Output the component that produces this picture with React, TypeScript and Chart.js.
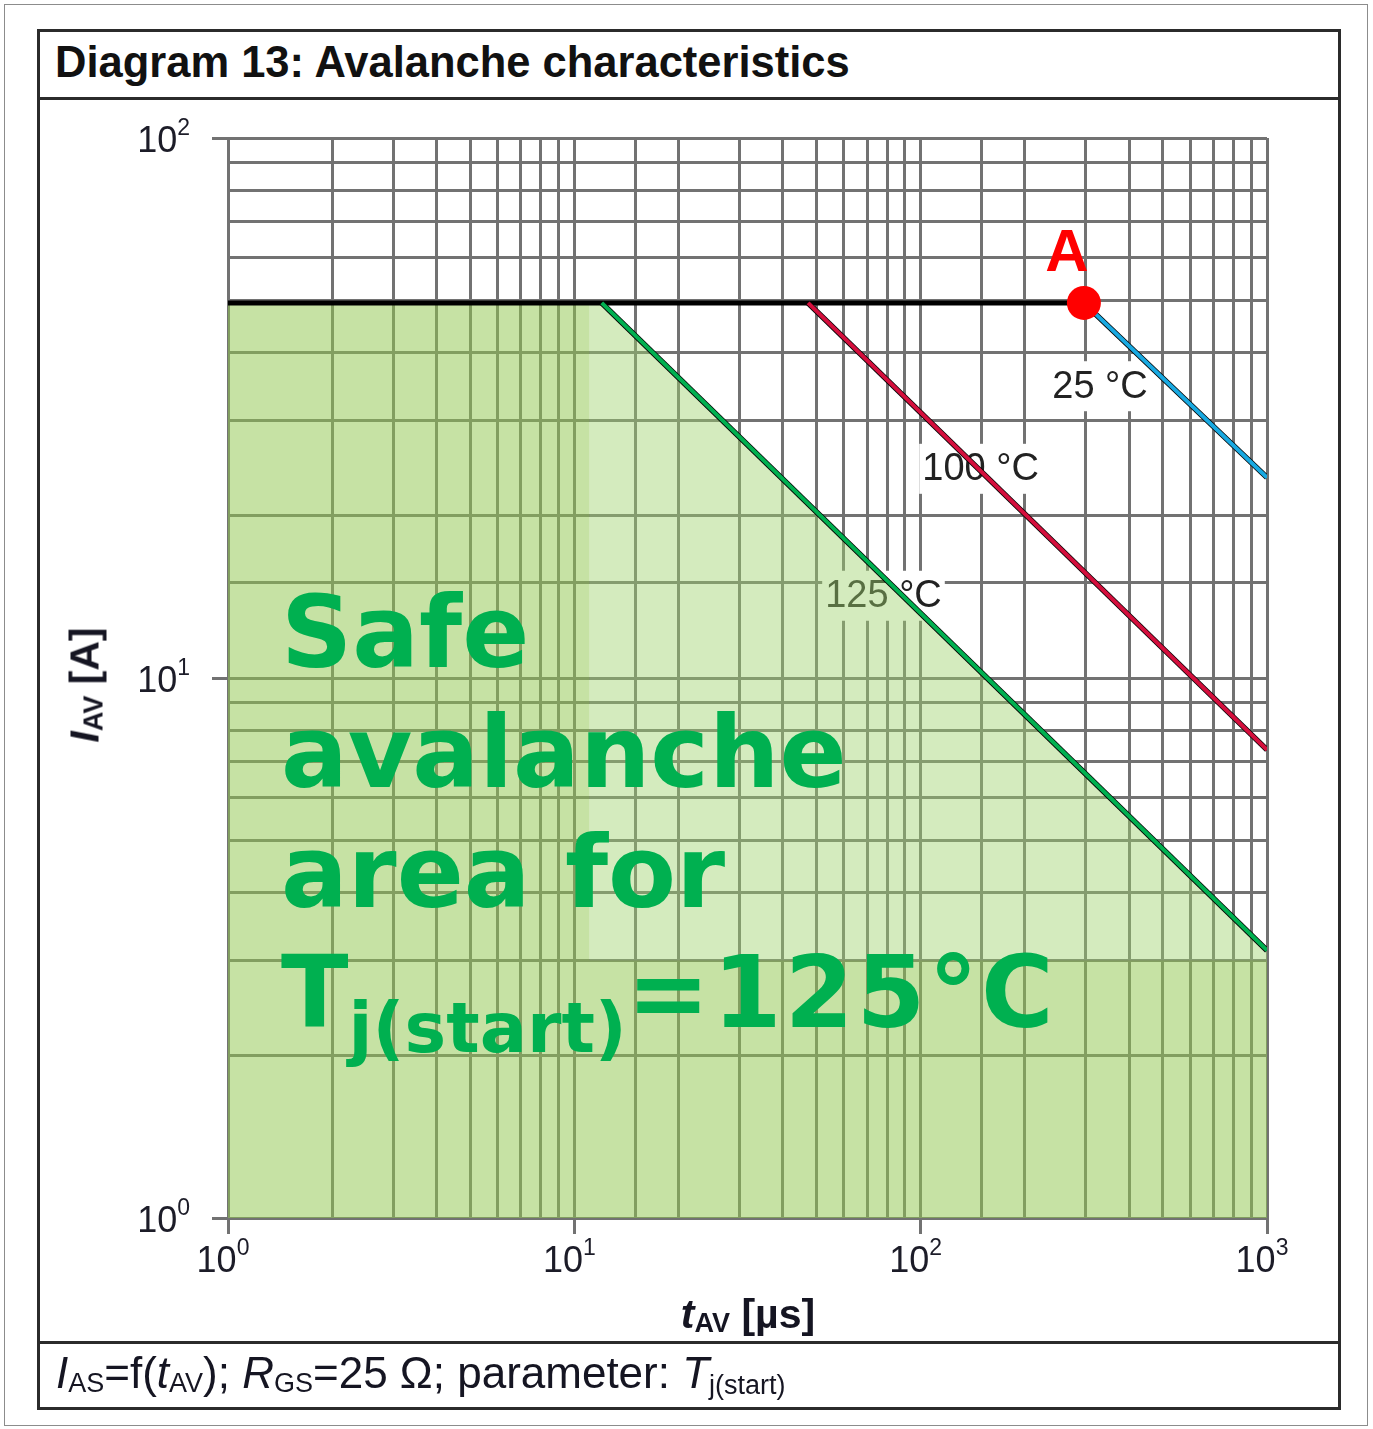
import React, { useEffect, useRef } from 'react';
import { Chart, registerables } from 'chart.js';

Chart.register(...registerables);

// ---- data ----
const startTimeUs = 1;
const endTimeUs = 1000;
const limitCurrentA = 49.5;
const tempLabels = ['25 °C', '100 °C', '125 °C'];
const breakTimesUs = [296, 47.3, 12.0];
const endCurrentsA = [23.5, 7.36, 3.13];
const curveColors = ['#19a9e1', '#d40f3d', '#00b050'];
const labelTimesUs = [329.5, 148.9, 78.1];
const labelCurrentsA = [34.7, 24.4, 14.2];
const pointATimeUs = [296];
const pointACurrentA = [49.5];
const pointALabel = 'A';
const darkZoneEdgeUs = 11.06;
const darkZoneFloorA = 3.0;
const xTickValues = [1, 10, 100, 1000];
const xTickExponents = ['0', '1', '2', '3'];
const yTickValues = [1, 10, 100];
const yTickExponents = ['0', '1', '2'];

const FONT = '"Liberation Sans", Arial, Helvetica, sans-serif';
const GRID = '#727272';

const isDecade = (v: number) => Math.abs(Math.log10(v) - Math.round(Math.log10(v))) < 1e-9;

const overlayPlugin = {
  id: 'overlay',
  beforeDatasetsDraw(chart: any) {
    const { ctx, scales } = chart;
    const x = scales.x, y = scales.y;
    ctx.save();
    ctx.font = `38px ${FONT}`;
    ctx.textAlign = 'center';
    ctx.textBaseline = 'middle';
    tempLabels.forEach((t, i) => {
      const px = x.getPixelForValue(labelTimesUs[i]);
      const py = y.getPixelForValue(labelCurrentsA[i]);
      const w = ctx.measureText(t).width;
      ctx.fillStyle = '#ffffff';
      ctx.fillRect(px - w / 2 - 3, py - 25, w + 6, 50);
      ctx.fillStyle = '#222222';
      ctx.fillText(t, px, py + 1);
    });
    ctx.restore();
  },
  afterDraw(chart: any) {
    const { ctx, scales, chartArea } = chart;
    const x = scales.x, y = scales.y;
    ctx.save();
    ctx.fillStyle = '#1c1c28';
    ctx.textBaseline = 'alphabetic';
    ctx.textAlign = 'left';
    const mainFont = `36px ${FONT}`;
    const supFont = `23px ${FONT}`;
    xTickValues.forEach((v, i) => {
      const px = x.getPixelForValue(v);
      ctx.font = mainFont;
      const w1 = ctx.measureText('10').width;
      ctx.font = supFont;
      const w2 = ctx.measureText(xTickExponents[i]).width;
      const sx = px - (w1 + w2) / 2 - 5;
      const base = chartArea.bottom + 54;
      ctx.font = mainFont;
      ctx.fillText('10', sx, base);
      ctx.font = supFont;
      ctx.fillText(xTickExponents[i], sx + w1, base - 17);
    });
    yTickValues.forEach((v, i) => {
      const py = y.getPixelForValue(v);
      ctx.font = supFont;
      const w2 = ctx.measureText(yTickExponents[i]).width;
      ctx.font = mainFont;
      const w1 = ctx.measureText('10').width;
      const right = chartArea.left - 38;
      const base = py + 14;
      ctx.fillText('10', right - w2 - w1, base);
      ctx.font = supFont;
      ctx.fillText(yTickExponents[i], right - w2, base - 17);
    });
    // label of point A
    const ax = x.getPixelForValue(pointATimeUs[0]);
    const ay = y.getPixelForValue(pointACurrentA[0]);
    ctx.font = `bold 60px ${FONT}`;
    ctx.textAlign = 'center';
    ctx.fillStyle = '#ff0000';
    ctx.fillText(pointALabel, ax - 17, ay - 32);
    ctx.restore();
  },
};

function buildConfig(): any {
  const darkFill = [
    { x: startTimeUs, y: limitCurrentA },
    { x: darkZoneEdgeUs, y: limitCurrentA },
    { x: darkZoneEdgeUs, y: darkZoneFloorA },
    { x: endTimeUs, y: darkZoneFloorA },
  ];
  const safeBoundary = [
    { x: startTimeUs, y: limitCurrentA },
    { x: breakTimesUs[2], y: limitCurrentA },
    { x: endTimeUs, y: endCurrentsA[2] },
  ];
  const datasets: any[] = [
    {
      label: 'safe-dark',
      data: darkFill,
      fill: 'start',
      backgroundColor: 'rgba(145,200,80,0.52)',
      borderWidth: 0,
      pointRadius: 0,
      order: 10,
    },
    {
      label: 'safe-light',
      data: safeBoundary,
      fill: '-1',
      backgroundColor: 'rgba(157,209,107,0.44)',
      borderWidth: 0,
      pointRadius: 0,
      order: 9,
    },
    {
      label: 'limit',
      data: [
        { x: startTimeUs, y: limitCurrentA },
        { x: breakTimesUs[0], y: limitCurrentA },
      ],
      borderColor: '#000000',
      borderWidth: 5,
      pointRadius: 0,
      fill: false,
      order: 5,
    },
  ];
  tempLabels.forEach((t, i) => {
    datasets.push({
      label: t + ' outline',
      data: [
        { x: breakTimesUs[i], y: limitCurrentA },
        { x: endTimeUs, y: endCurrentsA[i] },
      ],
      borderColor: '#000000',
      borderWidth: 5.5,
      pointRadius: 0,
      fill: false,
      order: 4,
    });
  });
  tempLabels.forEach((t, i) => {
    datasets.push({
      label: t,
      data: [
        { x: breakTimesUs[i], y: limitCurrentA },
        { x: endTimeUs, y: endCurrentsA[i] },
      ],
      borderColor: curveColors[i],
      borderWidth: 4,
      pointRadius: 0,
      fill: false,
      order: 2,
    });
  });
  datasets.push({
    label: 'A',
    data: pointATimeUs.map((t, i) => ({ x: t, y: pointACurrentA[i] })),
    showLine: false,
    pointRadius: 17,
    pointBackgroundColor: '#ff0000',
    pointBorderWidth: 0,
    fill: false,
    order: 1,
  });

  const gridOpts = {
    color: GRID,
    lineWidth: 3,
    tickLength: 16,
    tickWidth: 3,
    tickColor: (c: any) => (c.tick && isDecade(c.tick.value) ? GRID : 'rgba(0,0,0,0)'),
  };

  return {
    type: 'line',
    data: { datasets },
    options: {
      animation: false,
      responsive: false,
      maintainAspectRatio: false,
      layout: { padding: { left: 212, right: 106, top: 138, bottom: 195 } },
      plugins: { legend: { display: false }, tooltip: { enabled: false } },
      elements: { line: { tension: 0 } },
      scales: {
        x: {
          type: 'logarithmic',
          min: startTimeUs,
          max: endTimeUs,
          ticks: { display: false },
          grid: gridOpts,
          border: { display: true, color: GRID, width: 3 },
        },
        y: {
          type: 'logarithmic',
          min: 1,
          max: 100,
          ticks: { display: false },
          grid: gridOpts,
          border: { display: true, color: GRID, width: 3 },
        },
      },
    },
    plugins: [overlayPlugin],
  };
}

const sub = (size: number, top: number): React.CSSProperties => ({
  fontSize: size,
  position: 'relative',
  top,
  lineHeight: 0,
  fontStyle: 'normal',
});

export default function App() {
  const ref = useRef<HTMLCanvasElement>(null);
  useEffect(() => {
    const chart = new Chart(ref.current as HTMLCanvasElement, buildConfig());
    return () => chart.destroy();
  }, []);

  const hLine = (top: number): React.CSSProperties => ({
    position: 'absolute',
    left: 37,
    top,
    width: 1304,
    height: 3,
    background: '#2b2b2b',
  });

  return (
    <div
      style={{
        position: 'absolute',
        left: 0,
        top: 0,
        width: 1373,
        height: 1429,
        background: '#ffffff',
        overflow: 'hidden',
        fontFamily: FONT,
        color: '#111',
      }}
    >
      <div
        style={{
          position: 'absolute',
          left: 4,
          top: 4,
          width: 1362,
          height: 1420,
          border: '1.5px solid #8c8c8c',
        }}
      />
      <div style={hLine(29)} />
      <div style={hLine(97)} />
      <div style={hLine(1341)} />
      <div style={hLine(1407)} />
      <div style={{ position: 'absolute', left: 37, top: 29, width: 3, height: 1381, background: '#2b2b2b' }} />
      <div style={{ position: 'absolute', left: 1338, top: 29, width: 3, height: 1381, background: '#2b2b2b' }} />

      <div
        style={{
          position: 'absolute',
          left: 55,
          top: 41,
          fontSize: 43.5,
          lineHeight: '43px',
          fontWeight: 'bold',
          whiteSpace: 'nowrap',
        }}
      >
        Diagram 13: Avalanche characteristics
      </div>

      <canvas
        ref={ref}
        width={1373}
        height={1429}
        style={{ position: 'absolute', left: 0, top: 0, width: 1373, height: 1429 }}
      />

      <div
        style={{
          position: 'absolute',
          left: 748,
          top: 1294,
          transform: 'translateX(-50%)',
          fontSize: 41,
          lineHeight: '41px',
          fontWeight: 'bold',
          whiteSpace: 'nowrap',
          color: '#151522',
        }}
      >
        <i>t</i>
        <span style={sub(27, 4)}>AV</span> [µs]
      </div>

      <div
        style={{
          position: 'absolute',
          left: 85,
          top: 685,
          transform: 'translate(-50%, -50%) rotate(-90deg)',
          fontSize: 41,
          lineHeight: '41px',
          fontWeight: 'bold',
          whiteSpace: 'nowrap',
          color: '#151522',
        }}
      >
        <i>I</i>
        <span style={sub(27, 4)}>AV</span> [A]
      </div>

      <div
        style={{
          position: 'absolute',
          left: 56,
          top: 1351,
          fontSize: 44,
          lineHeight: '44px',
          whiteSpace: 'nowrap',
          color: '#151522',
        }}
      >
        <i>I</i>
        <span style={sub(27, 4)}>AS</span>=f(<i>t</i>
        <span style={sub(27, 4)}>AV</span>); <i>R</i>
        <span style={sub(27, 4)}>GS</span>=25 Ω; parameter: <i>T</i>
        <span style={sub(27, 6)}>j(start)</span>
      </div>

      <div
        style={{
          position: 'absolute',
          left: 281,
          top: 573,
          fontFamily: '"DejaVu Sans", Verdana, sans-serif',
          fontWeight: 'bold',
          fontSize: 99,
          lineHeight: '120px',
          color: '#00b050',
          whiteSpace: 'nowrap',
        }}
      >
        <div>Safe</div>
        <div>avalanche</div>
        <div>area for</div>
        <div>
          T<span style={{ fontSize: 70, position: 'relative', top: 25, lineHeight: 0 }}>j(start)</span>
          <span style={{ letterSpacing: 3 }}>=125°C</span>
        </div>
      </div>
    </div>
  );
}
